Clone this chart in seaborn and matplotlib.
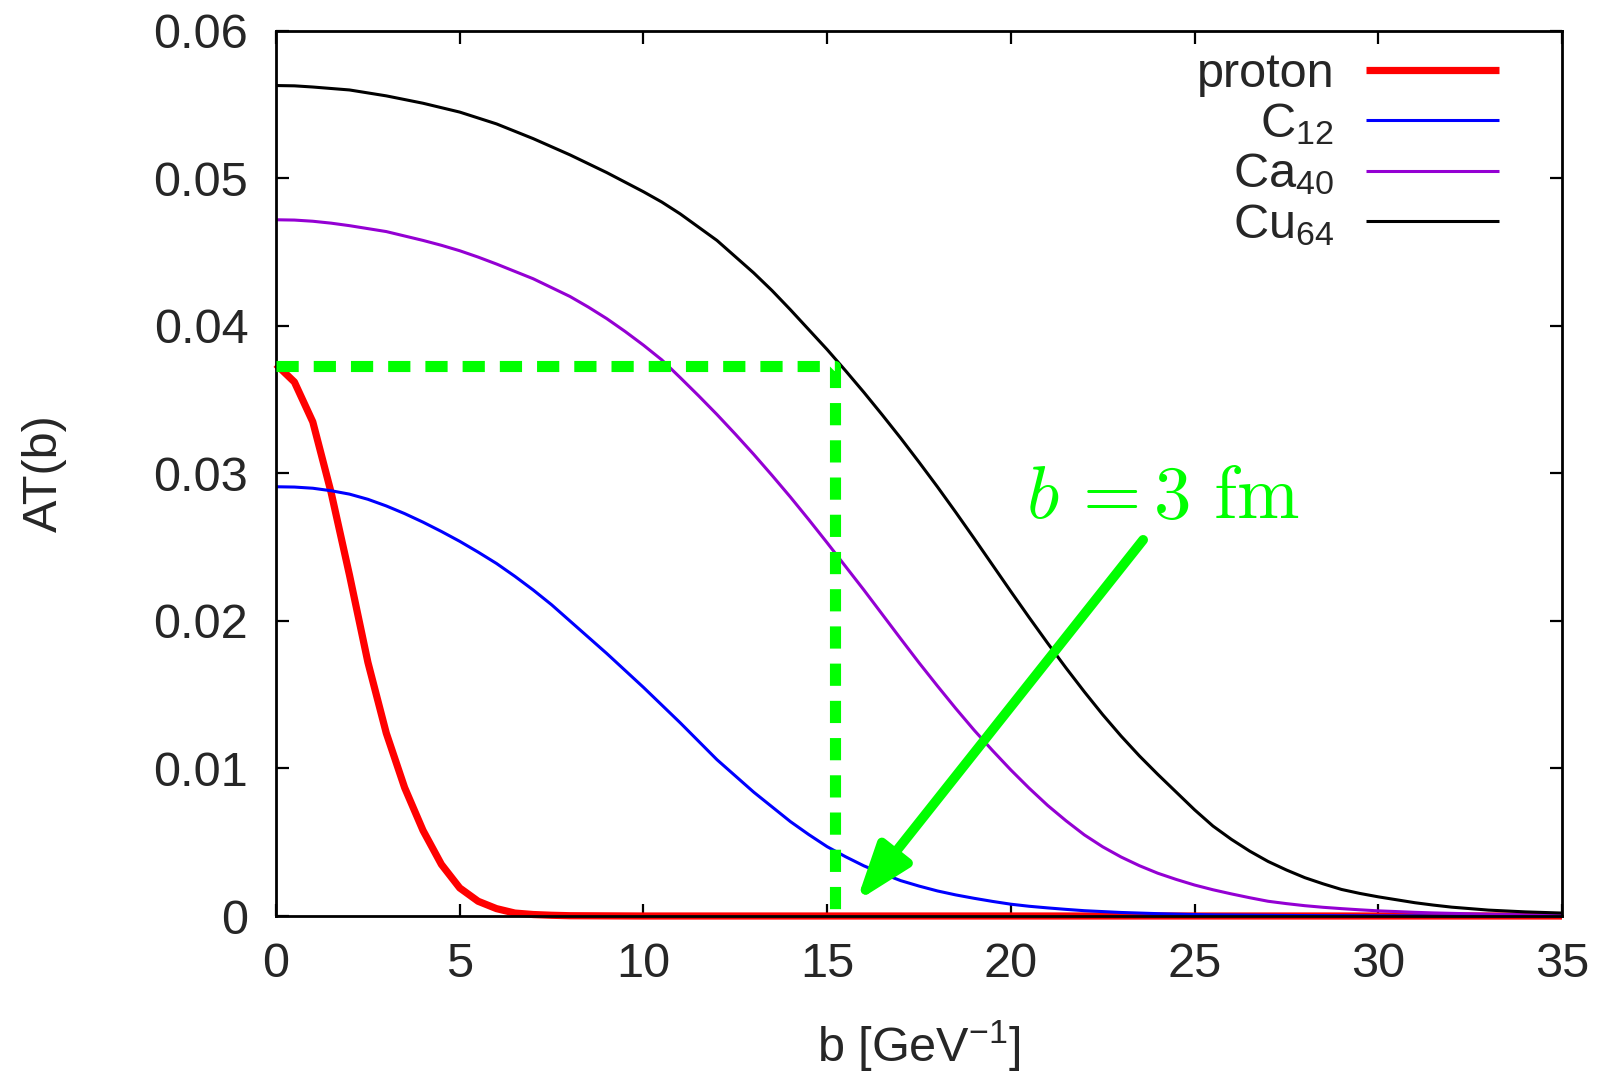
import matplotlib
matplotlib.use("Agg")
import matplotlib.pyplot as plt
import pandas as pd
import seaborn as sns

# Thickness functions A*T(b) versus impact parameter b [GeV^-1]
b_proton = [0, 0.5, 1, 1.5, 2, 2.5, 3, 3.5, 4, 4.5, 5, 5.5, 6, 6.5, 7, 7.5, 8,
            9, 10, 12, 14, 16, 18, 20, 22, 24, 26, 28, 30, 32, 34, 35]
t_proton = [0.0374, 0.0362, 0.0335, 0.0287, 0.0231, 0.0172, 0.0124, 0.0087,
            0.0058, 0.0035, 0.0019, 0.0010, 0.0005, 0.0002, 0.0001, 0.00005,
            0.00002, 0.00001, 0, 0, 0, 0, 0, 0, 0, 0, 0, 0, 0, 0, 0, 0]

# nuclei are tabulated every 0.5 GeV^-1 from 0 to 35
b_nucleus = [0.5 * i for i in range(71)]
t_c12 = [0.0291, 0.02908, 0.0290, 0.02883, 0.0286, 0.02825, 0.0278, 0.02728, 0.0267, 0.02607,
         0.0254, 0.02467, 0.0239, 0.02303, 0.0221, 0.0211, 0.0200, 0.0189, 0.0178, 0.01665,
         0.0155, 0.0143, 0.0131, 0.01185, 0.0106, 0.0095, 0.0084, 0.0074, 0.0064, 0.00552,
         0.0047, 0.00402, 0.0034, 0.00288, 0.0024, 0.00203, 0.0017, 0.00143, 0.0012, 0.00099,
         0.0008, 0.00066, 0.00055, 0.00045, 0.00036, 0.0003, 0.00024, 0.0002, 0.00016, 0.00013,
         0.0001, 0.00008, 0.00007, 0.00006, 0.00005, 0.00004, 0.00003, 0.000025, 0.00002, 0.000015,
         0.00001, 0.00001, 0.00001, 0, 0, 0, 0, 0, 0, 0,
         0]
t_ca40 = [0.0472, 0.04718, 0.0471, 0.04697, 0.0468, 0.0466, 0.0464, 0.0461, 0.0458, 0.04547,
          0.0451, 0.04467, 0.0442, 0.0437, 0.0432, 0.0426, 0.0420, 0.04128, 0.0405, 0.03963,
          0.0387, 0.0377, 0.0365, 0.03527, 0.0340, 0.03267, 0.0313, 0.02987, 0.0284, 0.02687,
          0.0253, 0.0237, 0.0221, 0.02045, 0.0188, 0.01717, 0.0156, 0.01407, 0.0126, 0.01122,
          0.0099, 0.00866, 0.0075, 0.00646, 0.0055, 0.00469, 0.0040, 0.00341, 0.0029, 0.00248,
          0.0021, 0.00178, 0.0015, 0.00124, 0.0010, 0.00084, 0.0007, 0.00059, 0.0005, 0.00042,
          0.00035, 0.0003, 0.00025, 0.00021, 0.00018, 0.00015, 0.00012, 0.0001, 0.00008, 0.000065,
          0.00005]
t_cu64 = [0.0563, 0.05628, 0.0562, 0.0561, 0.0560, 0.0558, 0.0556, 0.05535, 0.0551, 0.0548,
          0.0545, 0.0541, 0.0537, 0.0532, 0.0527, 0.05215, 0.0516, 0.0510, 0.0504, 0.04975,
          0.0491, 0.0484, 0.0476, 0.0467, 0.0458, 0.0447, 0.0436, 0.0424, 0.0411, 0.03975,
          0.0384, 0.03697, 0.0355, 0.03397, 0.0324, 0.03077, 0.0291, 0.02737, 0.0256, 0.0238,
          0.0220, 0.02023, 0.0185, 0.01682, 0.0152, 0.01365, 0.0122, 0.01085, 0.0096, 0.0084,
          0.0072, 0.0061, 0.0052, 0.0044, 0.0037, 0.00312, 0.0026, 0.00218, 0.0018, 0.00153,
          0.0013, 0.0011, 0.0009, 0.00074, 0.0006, 0.0005, 0.0004, 0.00034, 0.00028, 0.00024,
          0.0002]

targets = ["proton", "C12", "Ca40", "Cu64"]
legend_labels = ["proton", r"C$_{12}$", r"Ca$_{40}$", r"Cu$_{64}$"]
colors = {"proton": "#ff0000", "C12": "#0000ff", "Ca40": "#9400d3", "Cu64": "#000000"}
widths = {"proton": 5.2, "C12": 2.2, "Ca40": 2.2, "Cu64": 2.2}

# b = 3 fm expressed in GeV^-1, and the proton central value it is compared with
hbarc = 0.1973
b_mark = 3.0 / hbarc
t_mark = 0.0373
arrow_tail = (23.6, 0.0255)
arrow_head = (15.8, 0.0010)
label_pos = (20.4, 0.0270)

df = pd.concat([
    pd.DataFrame({"b": b_proton, "AT": t_proton, "target": "proton"}),
    pd.DataFrame({"b": b_nucleus, "AT": t_c12, "target": "C12"}),
    pd.DataFrame({"b": b_nucleus, "AT": t_ca40, "target": "Ca40"}),
    pd.DataFrame({"b": b_nucleus, "AT": t_cu64, "target": "Cu64"}),
], ignore_index=True)

sns.set_theme(style="ticks")
plt.rcParams["font.family"] = ["Liberation Sans", "DejaVu Sans"]
plt.rcParams["mathtext.fontset"] = "custom"
plt.rcParams["mathtext.rm"] = "Liberation Sans"
plt.rcParams["mathtext.it"] = "Liberation Sans:italic"

FS = 35
fig = plt.figure(figsize=(16.04, 10.75), dpi=100)
ax = fig.add_axes([0.1721, 0.1479, 0.8017, 0.8233])

sns.lineplot(data=df, x="b", y="AT", hue="target", hue_order=targets,
             size="target", size_order=targets, sizes=widths,
             palette=colors, estimator=None, sort=False, legend=False, ax=ax)
for line in ax.lines:
    line.set_clip_on(False)
    line.set_solid_capstyle("butt")
    line.set_solid_joinstyle("round")
curve_lines = list(ax.lines[:4])

# dashed guide lines marking b = 3 fm
ax.plot([0, b_mark, b_mark], [t_mark, t_mark, 0.0005], color="#00ff00",
        lw=8.0, dashes=(2.0, 1.35), solid_capstyle="butt",
        dash_capstyle="butt", zorder=5, clip_on=False)

ax.annotate("", xy=arrow_head, xytext=arrow_tail,
            arrowprops=dict(arrowstyle="-|>,head_length=3.4,head_width=1.2",
                            mutation_scale=10, color="#00ff00", lw=7.0,
                            shrinkA=0, shrinkB=0),
            zorder=6)
ax.text(label_pos[0], label_pos[1], r"$b\,=3\ \mathrm{fm}$", color="#00ff00",
        fontsize=54, math_fontfamily="cm", ha="left", va="baseline", zorder=6)

ax.set_xlim(0, 35)
ax.set_ylim(0, 0.06)
ax.set_xticks([0, 5, 10, 15, 20, 25, 30, 35])
ax.set_yticks([0, 0.01, 0.02, 0.03, 0.04, 0.05, 0.06])
ax.set_yticklabels(["0", "0.01", "0.02", "0.03", "0.04", "0.05", "0.06"])
ax.tick_params(axis="both", which="major", direction="in", length=9,
               width=1.6, labelsize=FS, top=True, right=True, color="black")
ax.tick_params(axis="x", pad=19)
ax.tick_params(axis="y", pad=20)
for sp in ax.spines.values():
    sp.set_visible(True)
    sp.set_linewidth(2.0)
    sp.set_color("black")

ax.set_xlabel(r"b [GeV$^{\mathrm{-1}}$]", fontsize=FS)
ax.set_ylabel("AT(b)", fontsize=FS)
ax.xaxis.set_label_coords(0.5, -0.116)
ax.yaxis.set_label_coords(-0.163, 0.5)

ax.legend(handles=curve_lines, labels=legend_labels, loc="upper right",
          bbox_to_anchor=(0.951, 0.976), frameon=False, markerfirst=False,
          fontsize=FS, handlelength=2.73, handletextpad=0.66,
          labelspacing=0.09, borderpad=0, borderaxespad=0)

fig.savefig("out.png", dpi=100)
